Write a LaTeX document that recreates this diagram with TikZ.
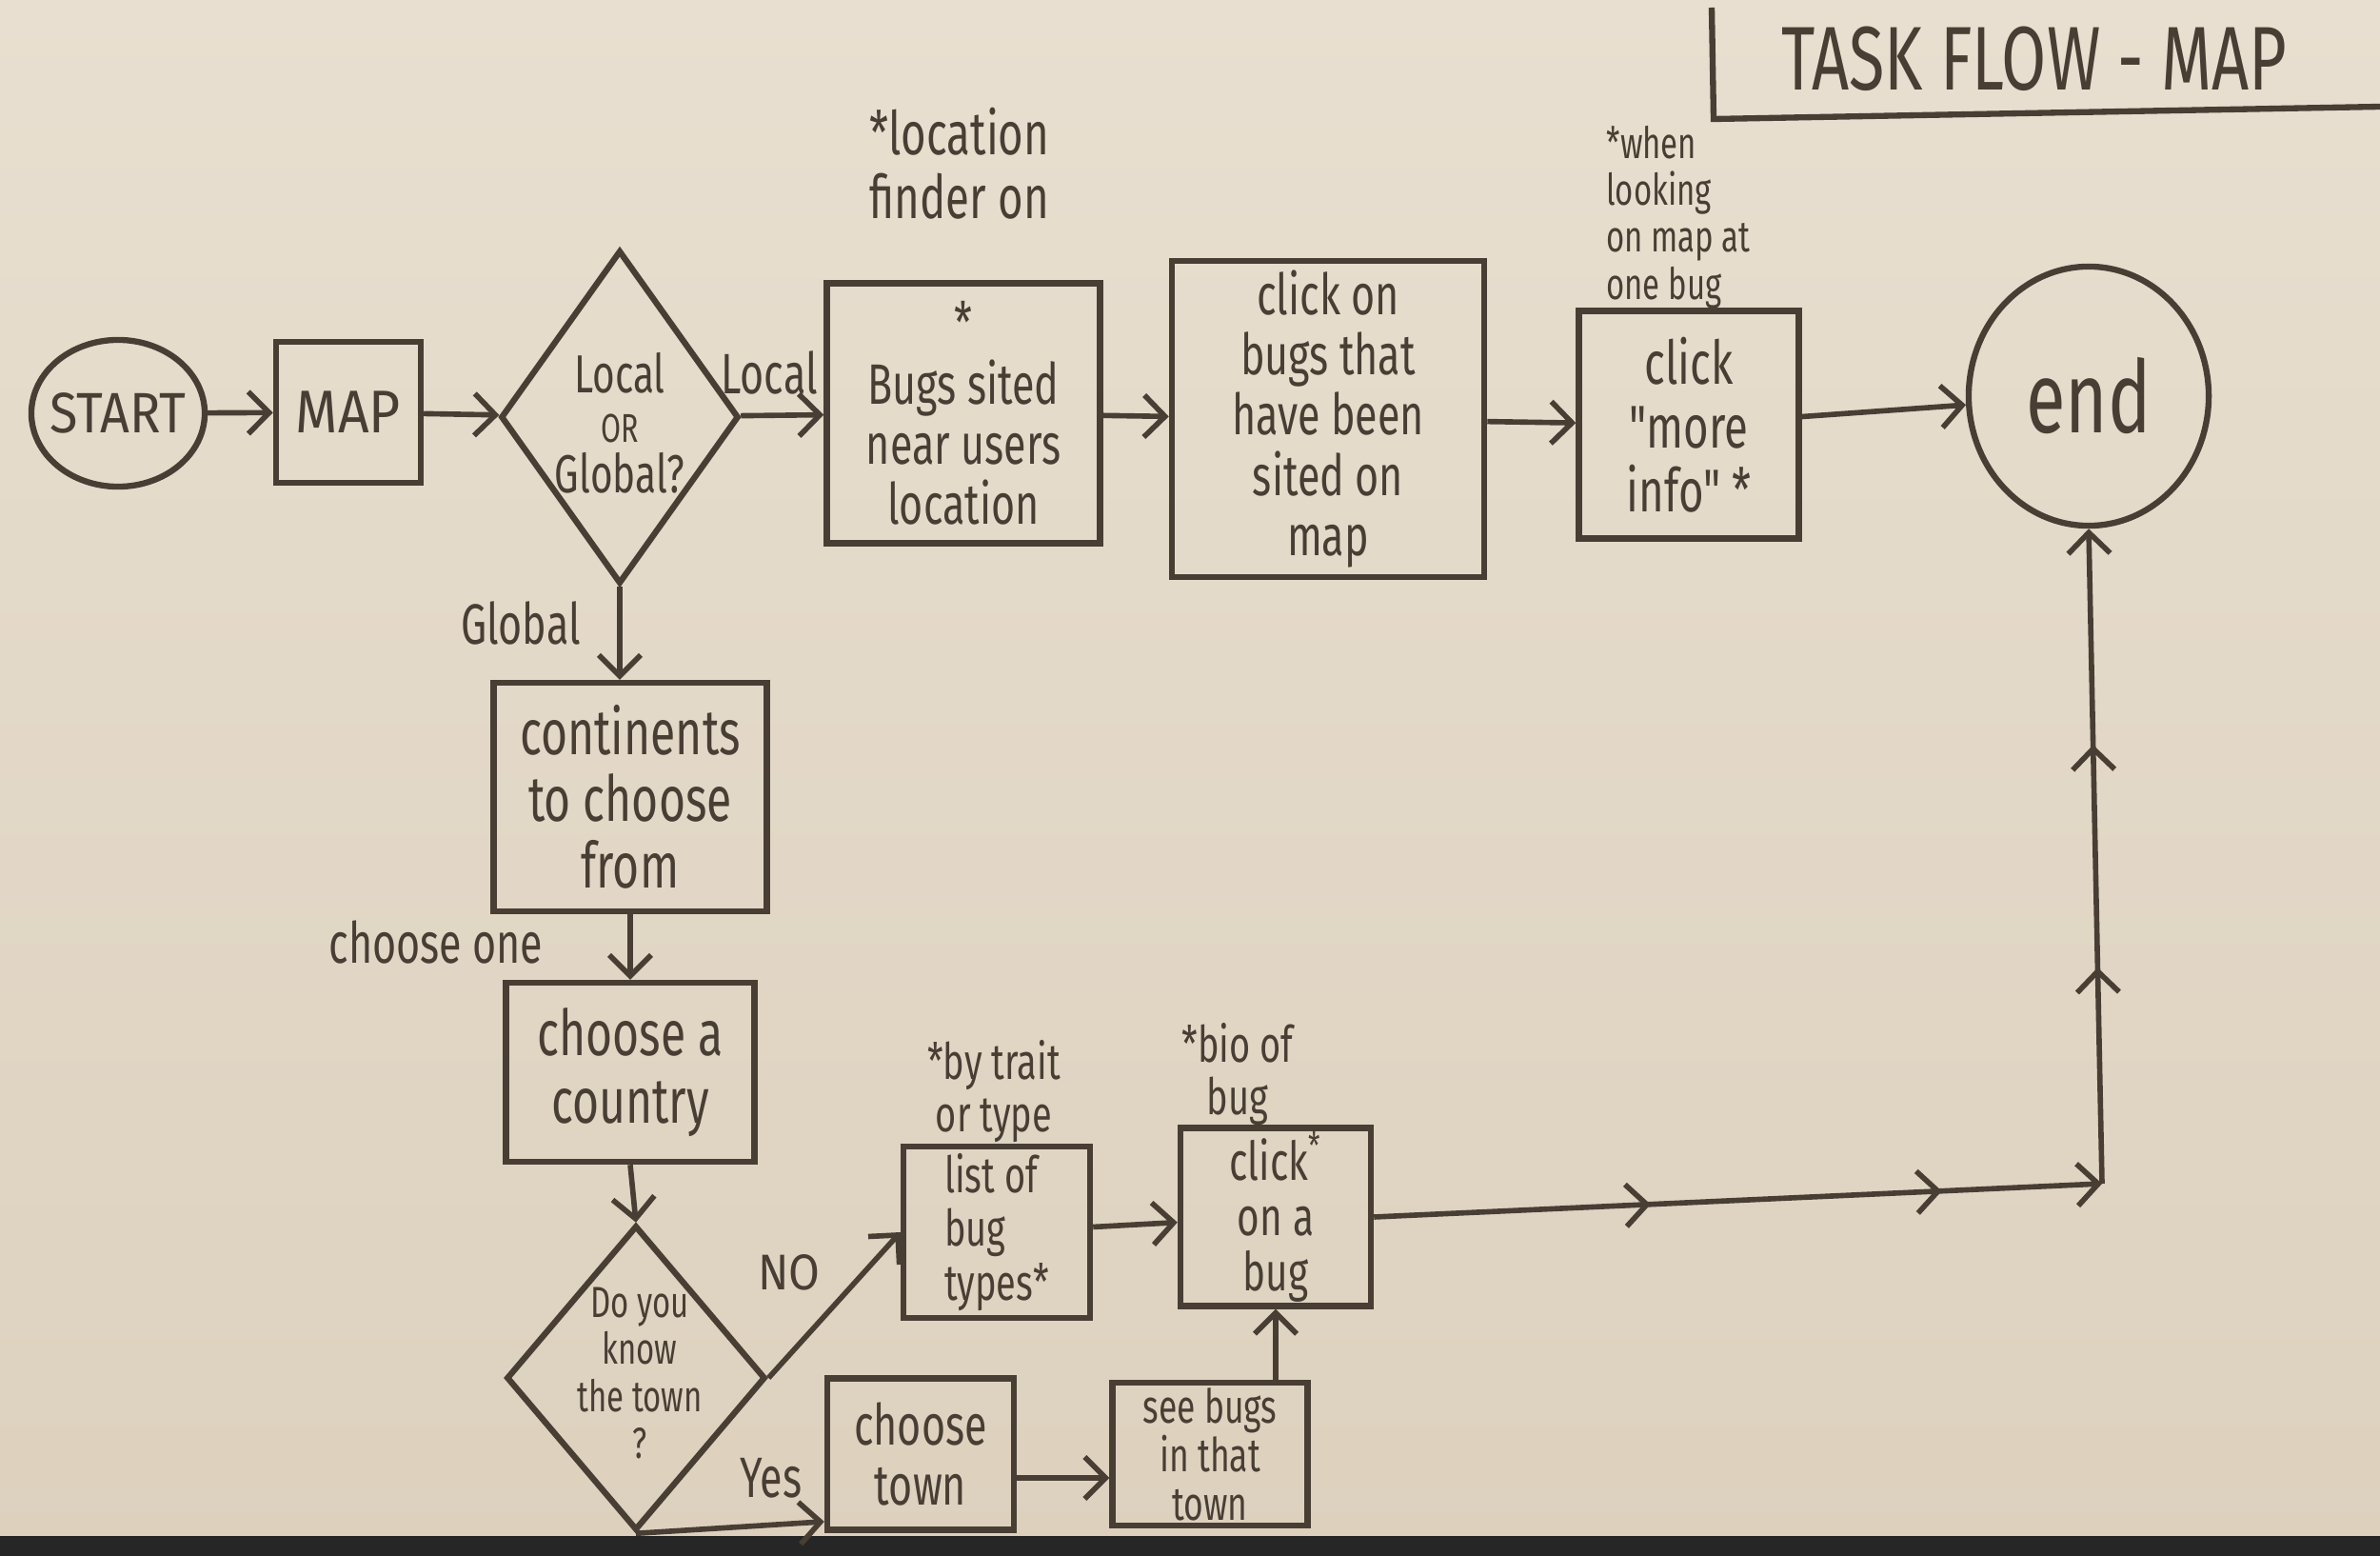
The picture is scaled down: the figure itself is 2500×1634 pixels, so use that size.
\documentclass[tikz,border=0pt]{standalone}
\usepackage{fontspec}
\setmainfont{Fira Sans}
\newfontfamily\hand{Fira Sans}[FakeStretch=0.72]
\newfontfamily\handw{Fira Sans}[FakeStretch=0.9]
\usetikzlibrary{shapes.geometric,arrows.meta,decorations.markings,calc}
\definecolor{paper}{RGB}{232,223,208}
\definecolor{paperdk}{RGB}{221,209,190}
\definecolor{ink}{RGB}{72,62,52}
\begin{document}
\begin{tikzpicture}[x=0.01cm,y=-0.01cm,
  >={Straight Barb[length=2.2mm,width=4.4mm]},
  every node/.style={text=ink},
  txt/.style={inner sep=0pt, align=center, font=\hand\fontsize{18}{18}\selectfont},
  box/.style={draw=ink, line width=1.8pt, rectangle, inner sep=0pt, align=center, font=\hand\fontsize{18}{18}\selectfont},
  dia/.style={draw=ink, line width=1.8pt, diamond, inner sep=0pt},
  oval/.style={draw=ink, line width=1.8pt, ellipse, inner sep=0pt},
  flow/.style={draw=ink, line width=1.6pt, ->},
  chevh/.style={postaction={decorate}, decoration={markings,
      mark=at position 0.38 with {\arrow{>}},
      mark=at position 0.78 with {\arrow{>}}}},
  chevv/.style={postaction={decorate}, decoration={markings,
      mark=at position 0.33 with {\arrow{>}},
      mark=at position 0.67 with {\arrow{>}}}}
]
% paper
\shade[top color=paper, bottom color=paperdk] (0,0) rectangle (2500,1634);
\fill[black!85] (0,1613) rectangle (2500,1634);
\useasboundingbox (0,0) rectangle (2500,1634);

% title
\draw[ink, line width=1.8pt] (1798,8) -- (1800,125) -- (2500,112);
\node[txt, font=\hand\fontsize{27}{27}\selectfont] (title) at (2137,62) {TASK FLOW - MAP};

% top row
\node[oval, minimum width=1.82cm, minimum height=1.54cm] (start) at (124,434) {};
\node[txt, font=\handw\fontsize{17}{17}\selectfont] (startt) at (start) {START};
\node[box, minimum width=1.52cm, minimum height=1.48cm, font=\handw\fontsize{18}{18}\selectfont] (map) at (366,433) {MAP};
\node[dia, minimum width=2.5cm, minimum height=3.5cm] (dg) at (651,438) {};
\node[txt, font=\hand\fontsize{16}{16}\selectfont] (dgt) at (651,444) {Local\\[-1pt]{\fontsize{12}{12}\selectfont OR}\\[-1pt]Global?};
\node[box, minimum width=2.87cm, minimum height=2.73cm, font=\hand\fontsize{17}{18}\selectfont] (bugs) at (1012,434) {*\\Bugs sited\\near users\\location};
\node[box, minimum width=3.28cm, minimum height=3.32cm, font=\hand\fontsize{17}{18}\selectfont] (clickon) at (1395,440) {click on\\bugs that\\have been\\sited on\\map};
\node[box, minimum width=2.31cm, minimum height=2.39cm, font=\hand\fontsize{18}{19}\selectfont] (more) at (1774,446) {click\\"more\\info" *};
\node[oval, minimum width=2.52cm, minimum height=2.72cm] (endn) at (2194,416) {};
\node[txt, font=\hand\fontsize{30}{30}\selectfont] (endt) at (endn) {end};

% annotations
\node[txt, align=left, font=\hand\fontsize{18}{19}\selectfont] (ann1) at (1008,172) {*location\\ finder on};
\node[txt, align=left, font=\hand\fontsize{13}{14}\selectfont] (ann2) at (1763,228) {*when\\ looking\\ on map at\\ one bug};
\node[txt, font=\hand\fontsize{15}{15.5}\selectfont] (ann3) at (1044,1146) {*by trait\\or type};
\node[txt, font=\hand\fontsize{15}{15.5}\selectfont] (ann4) at (1300,1128) {*bio of\\bug};

% left column
\node[box, minimum width=2.87cm, minimum height=2.40cm, font=\hand\fontsize{19}{20}\selectfont] (cont) at (662,837) {continents\\to choose\\from};
\node[box, minimum width=2.61cm, minimum height=1.88cm, font=\hand\fontsize{19}{20}\selectfont] (country) at (662,1126) {choose a\\country};
\node[dia, minimum width=2.72cm, minimum height=3.2cm] (dk) at (668,1447) {};
\node[txt, font=\hand\fontsize{13}{14}\selectfont] (dkt) at (672,1442) {Do you\\know\\the town\\?};

% bottom row
\node[box, minimum width=1.96cm, minimum height=1.80cm, align=left, font=\hand\fontsize{15}{16}\selectfont] (list) at (1047,1294) {list of\\bug\\types*};
\node[box, minimum width=2.0cm, minimum height=1.87cm, font=\hand\fontsize{16}{16.5}\selectfont] (clickbug) at (1340,1278) {click\textsuperscript{*}\\on a\\bug};
\node[box, minimum width=1.96cm, minimum height=1.59cm, font=\hand\fontsize{17}{18}\selectfont] (ctown) at (967,1527) {choose\\town};
\node[box, minimum width=2.05cm, minimum height=1.5cm, font=\hand\fontsize{14}{14.5}\selectfont] (seebugs) at (1271,1527) {see bugs\\in that\\town};

% connector labels
\node[txt, font=\hand\fontsize{17}{17}\selectfont] (llocal) at (808,391) {Local};
\node[txt, font=\hand\fontsize{17}{17}\selectfont] (lglobal) at (547,654) {Global};
\node[txt, font=\hand\fontsize{17}{17}\selectfont] (lchoose) at (458,989) {choose one};
\node[txt, font=\handw\fontsize{15}{15}\selectfont] (lno) at (829,1336) {NO};
\node[txt, font=\hand\fontsize{17}{17}\selectfont] (lyes) at (810,1552) {Yes};

% connectors
\draw[flow] (start) -- (map);
\draw[flow] (map) -- (dg);
\draw[flow] (dg) -- (bugs);
\draw[flow] (bugs) -- (clickon);
\draw[flow] (clickon) -- (more);
\draw[flow] (more) -- (endn);
\draw[flow] (dg.south) -- (dg.south |- cont.north);
\draw[flow] (cont.south) -- (country.north);
\draw[flow] (country.south) -- (dk.north);
\draw[flow] (dk.east) -- (list.west);
\draw[flow] (dk.south) -- (ctown.215);
\draw[flow] ([yshift=-0.25cm]ctown.east) -- ([yshift=-0.25cm]seebugs.west);
\draw[flow] (seebugs.north -| clickbug.south) -- (clickbug.south);
\draw[flow] (list) -- (clickbug);
\coordinate (corner) at (2208,1243);
\draw[flow, chevh] (clickbug.east) -- (corner);
\draw[flow, chevv] (corner) -- (endn.south);
\end{tikzpicture}
\end{document}
